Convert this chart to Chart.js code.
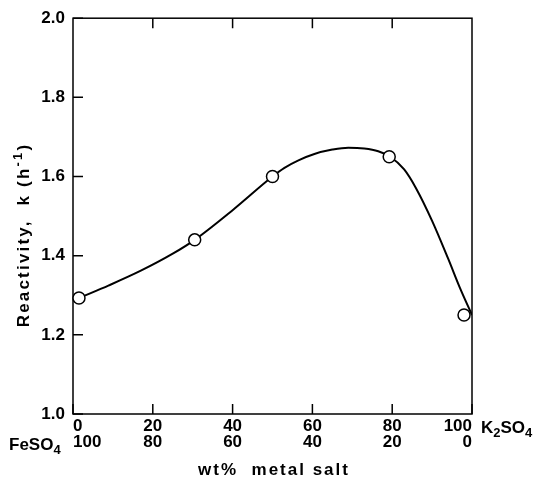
<!DOCTYPE html>
<html>
<head>
<meta charset="utf-8">
<script src="https://cdn.jsdelivr.net/npm/chart.js@4"></script>
<style>body{margin:0;background:#fff}</style>
</head>
<body>
<canvas id="chart" width="539" height="482"></canvas>
<script>
// Measured points (open circles)
const measX=[1.5,30.5,50,79.25,98];
const measY=[1.293,1.440,1.600,1.650,1.250];

// Hand drawn curve
const curveX=[1.5,9,17,25,30.5,40,50,53,56.5,60.5,65,69,73,76.5,79.5,83,86,90,94,97,100];
const curveY=[1.293,1.325,1.362,1.405,1.440,1.515,1.600,1.622,1.641,1.657,1.668,1.673,1.671,1.664,1.650,1.618,1.570,1.488,1.393,1.318,1.250];

// Axis ticks
const k2so4Ticks=[0,20,40,60,80,100];
const feso4Ticks=[100,80,60,40,20,0];
const yTicks=[1.0,1.2,1.4,1.6,1.8,2.0];

const FONT="'Liberation Sans', Arial, sans-serif";
const toXY=(xs,ys)=>xs.map((v,i)=>({x:v,y:ys[i]}));

// text with sub (1) / superscripts (2)
function rich(ctx,parts,x,y,size,spacing){
  let w=0;
  const fontOf=m=>'bold '+(m?Math.round(size*0.78):size)+'px '+FONT;
  ctx.letterSpacing=spacing+'px';
  parts.forEach(([t,m])=>{ctx.font=fontOf(m); w+=ctx.measureText(t).width;});
  if(ctx.textAlign==='center'){x-=w/2;}
  const al=ctx.textAlign; ctx.textAlign='left';
  parts.forEach(([t,m])=>{
    ctx.font=fontOf(m);
    ctx.fillText(t,x,y+(m===1?4:m===2?-7:0));
    x+=ctx.measureText(t).width;
  });
  ctx.textAlign=al; ctx.letterSpacing='0px';
}

// Frame, inward ticks, titles and salt names
const frame={id:'frame',
  beforeDatasetsDraw(c){
    const {ctx,chartArea:a,scales:{x,y}}=c;
    ctx.save();
    ctx.strokeStyle='#000'; ctx.lineWidth=1.5;
    ctx.strokeRect(a.left,a.top,a.right-a.left,a.bottom-a.top);
    ctx.beginPath();
    k2so4Ticks.forEach(v=>{
      let px=x.getPixelForValue(v);
      ctx.moveTo(px,a.bottom); ctx.lineTo(px,a.bottom-10);
      if(v>0&&v<100){ctx.moveTo(px,a.top); ctx.lineTo(px,a.top+10);}
    });
    yTicks.forEach(v=>{let py=y.getPixelForValue(v); ctx.moveTo(a.left,py); ctx.lineTo(a.left+10,py);});
    ctx.stroke();
    ctx.restore();
  },
  afterDraw(c){
    const {ctx}=c;
    ctx.save(); ctx.fillStyle='#000'; ctx.textBaseline='alphabetic'; ctx.textAlign='left';
    rich(ctx,[['K',0],['2',1],['SO',0],['4',1]],481,433,17,0);
    rich(ctx,[['FeSO',0],['4',1]],9,450,17,0);
    ctx.textAlign='center';
    rich(ctx,[['wt%  metal salt',0]],274,475,17,2);
    ctx.translate(29,235); ctx.rotate(-Math.PI/2);
    rich(ctx,[['Reactivity,  k (h',0],['-1',2],[')',0]],0,0,17,2.2);
    ctx.restore();
  }
};

new Chart(document.getElementById('chart'),{
  type:'scatter',
  data:{datasets:[
    {data:toXY(curveX,curveY),showLine:true,borderColor:'#000',borderWidth:2,pointRadius:0,cubicInterpolationMode:'monotone',order:2},
    {data:toXY(measX,measY),showLine:false,pointRadius:6,pointBorderWidth:1.5,pointBorderColor:'#000',pointBackgroundColor:'#fff',clip:false,order:1}
  ]},
  options:{
    responsive:false,animation:false,
    layout:{padding:{top:14,right:67,left:0,bottom:0}},
    plugins:{legend:{display:false},tooltip:{enabled:false}},
    scales:{
      x:{type:'linear',min:0,max:100,
        afterBuildTicks:s=>{s.ticks=k2so4Ticks.map(v=>({value:v}));},
        afterFit:s=>{s.height=68;},
        grid:{display:false,drawTicks:false},border:{display:false},
        ticks:{padding:4,align:'inner',color:'#000',maxRotation:0,font:{family:FONT,size:17,weight:'bold',lineHeight:0.95},
          callback:(v,i)=>[String(k2so4Ticks[i]),String(feso4Ticks[i])]}
      },
      y:{type:'linear',min:1.0,max:2.0,
        afterBuildTicks:s=>{s.ticks=yTicks.map(v=>({value:v}));},
        afterFit:s=>{s.width=73;},
        grid:{display:false,drawTicks:false},border:{display:false},
        ticks:{padding:8,color:'#000',font:{family:FONT,size:17,weight:'bold'},callback:v=>v.toFixed(1)}
      }
    }
  },
  plugins:[frame]
});
</script>
</body>
</html>
